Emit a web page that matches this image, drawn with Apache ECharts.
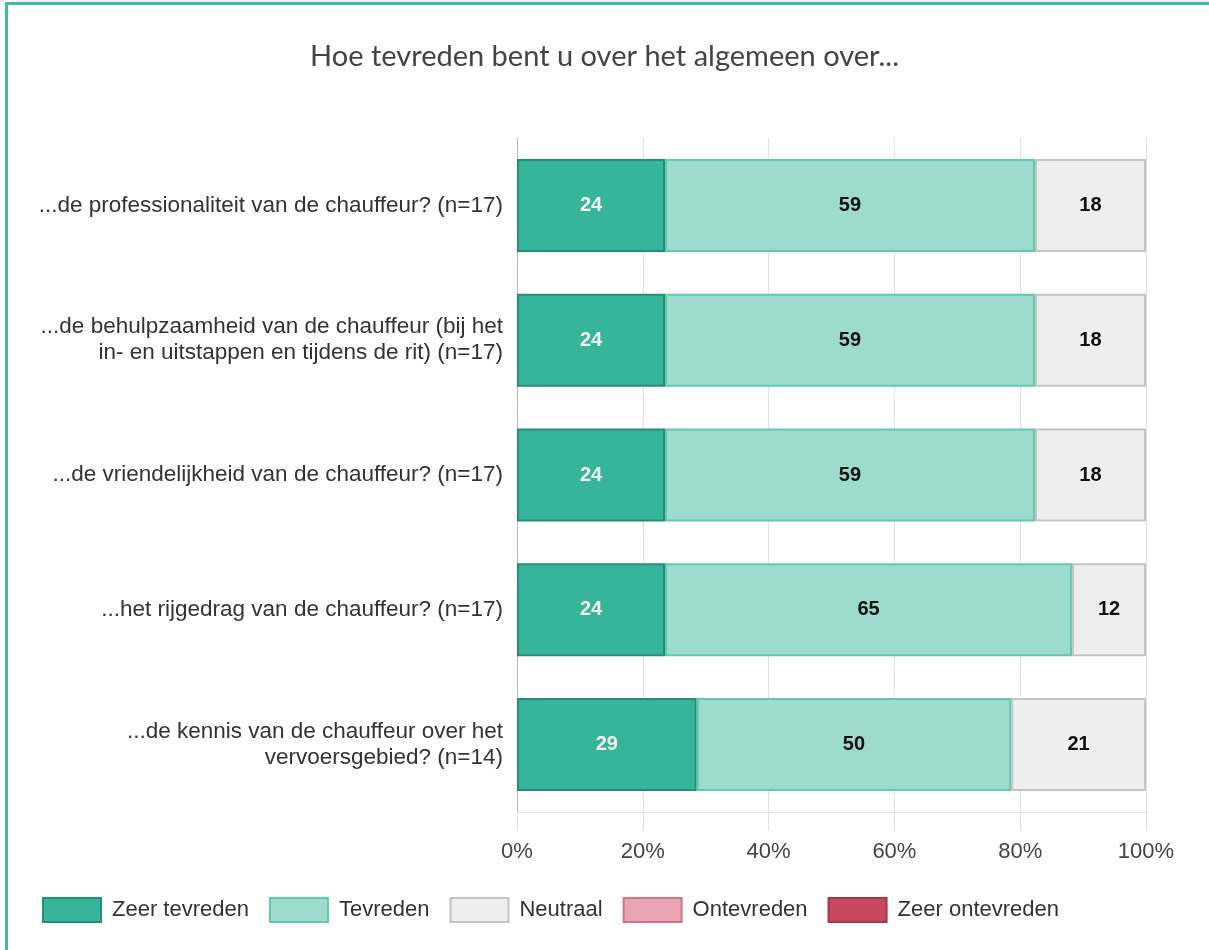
<!DOCTYPE html>
<html>
<head>
<meta charset="utf-8">
<title>Hoe tevreden bent u over het algemeen over...</title>
<script src="https://cdn.jsdelivr.net/npm/echarts@6/dist/echarts.min.js"></script>
<style>
  html, body { margin: 0; padding: 0; overflow: hidden; background: #fff; }
  #frame {
    position: absolute; left: 5px; top: 2px;
    width: 1300px; height: 1000px;
    border: 3px solid #40bca0;
  }
  #chart { position: absolute; left: 0; top: 0; width: 1209px; height: 950px; }
</style>
</head>
<body>
<div id="frame"></div>
<div id="chart"></div>
<script>
// categorieen (van boven naar beneden)
var categories = [
    '...de professionaliteit van de chauffeur? (n=17)',
    '...de behulpzaamheid van de chauffeur (bij het\nin- en uitstappen en tijdens de rit) (n=17)',
    '...de vriendelijkheid van de chauffeur? (n=17)',
    '...het rijgedrag van de chauffeur? (n=17)',
    '...de kennis van de chauffeur over het\nvervoersgebied? (n=14)'
];

// percentages per antwoord
var zeerTevreden   = [23.53, 23.53, 23.53, 23.53, 28.57];
var tevreden       = [58.82, 58.82, 58.82, 64.71, 50.00];
var neutraal       = [17.65, 17.65, 17.65, 11.76, 21.43];
var ontevreden     = [0, 0, 0, 0, 0];
var zeerOntevreden = [0, 0, 0, 0, 0];

var xTicks = [0, 20, 40, 60, 80, 100];

var FONT = 'Liberation Sans, Arial';

function makeSeries(name, data, fill, border, labelColor) {
    return {
        name: name,
        type: 'bar',
        stack: 'totaal',
        barCategoryGap: '31%',
        // lege segmenten niet tekenen (anders blijft een randje zichtbaar)
        data: data.map(function (v) { return v > 0 ? v : '-'; }),
        itemStyle: { color: fill, borderColor: border, borderWidth: 2 },
        label: {
            show: true,
            position: 'inside',
            color: labelColor,
            fontFamily: FONT,
            fontWeight: 'bold',
            fontSize: 20,
            formatter: function (p) {
                return p.value > 0 ? Math.round(p.value) : '';
            }
        },
        emphasis: { disabled: true }
    };
}

var myChart = echarts.init(document.getElementById('chart'));

myChart.setOption({
    animation: false,
    title: {
        text: 'Hoe tevreden bent u over het algemeen over...',
        left: 'center',
        top: 37,
        textStyle: {
            fontFamily: 'Lato',
            fontWeight: 'normal',
            fontSize: 29,
            color: '#444'
        }
    },
    legend: {
        left: 37,
        top: 892,
        icon: 'rect',
        itemWidth: 58,
        itemHeight: 24,
        itemGap: 20,
        textStyle: { fontFamily: FONT, fontSize: 22, color: '#333', padding: [0, 0, 0, 6] },
        data: ['Zeer tevreden', 'Tevreden', 'Neutraal', 'Ontevreden', 'Zeer ontevreden']
    },
    grid: { left: 517, right: 63, top: 138, bottom: 138, containLabel: false },
    xAxis: {
        type: 'value',
        min: xTicks[0],
        max: xTicks[xTicks.length - 1],
        interval: 20,
        axisLine: { show: true, lineStyle: { color: '#e2e2e2', width: 1 } },
        axisTick: { show: true, length: 19, lineStyle: { color: '#e2e2e2' } },
        splitLine: { show: true, lineStyle: { color: '#e2e2e2' } },
        axisLabel: {
            margin: 29,
            fontFamily: FONT,
            fontSize: 22,
            color: '#444',
            formatter: '{value}%'
        }
    },
    yAxis: {
        type: 'category',
        inverse: true,
        data: categories,
        axisLine: { show: true, lineStyle: { color: '#b8b8b8', width: 1 } },
        axisTick: { show: false },
        axisLabel: {
            margin: 14,
            fontFamily: FONT,
            fontSize: 22.5,
            lineHeight: 26,
            color: '#333',
            align: 'right'
        }
    },
    series: [
        makeSeries('Zeer tevreden', zeerTevreden, '#37b59b', '#2a8c77', '#f2f2f2'),
        makeSeries('Tevreden', tevreden, '#9cdbcd', '#62c8b0', '#111'),
        makeSeries('Neutraal', neutraal, '#eeeeee', '#c4c4c4', '#111'),
        makeSeries('Ontevreden', ontevreden, '#e8a4b2', '#d27387', '#111'),
        makeSeries('Zeer ontevreden', zeerOntevreden, '#c8485f', '#a9344b', '#111')
    ]
});
</script>
</body>
</html>
